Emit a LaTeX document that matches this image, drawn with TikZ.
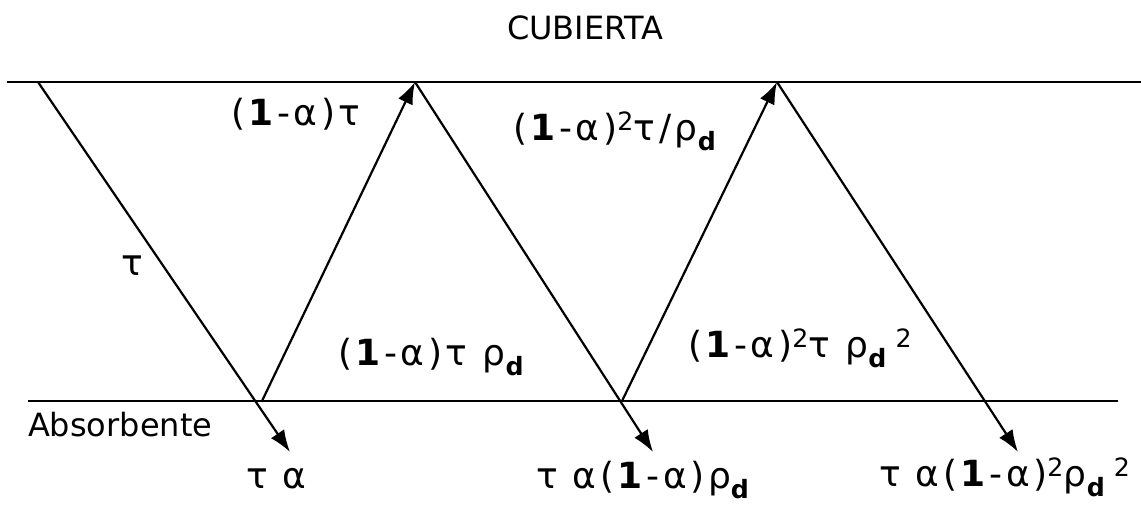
\documentclass[tikz,border=0pt]{standalone}
\usepackage{fontspec}
\setmainfont{DejaVu Sans}
\newfontfamily\formfont[LetterSpace=10]{DejaVu Sans}
\usetikzlibrary{arrows.meta}
\newcommand{\rhod}{ρ\textsubscript{\textbf{d}}}
\newcommand{\uno}{\textbf{1}}

\begin{document}
\begin{tikzpicture}[x=1pt, y=-1pt, line width=2.2pt,
    >={Latex[length=22pt,width=16pt]},
    lbl/.style={anchor=base west, inner sep=0pt, font=\fontsize{32}{36}\selectfont},
    frm/.style={anchor=base west, inner sep=0pt, font=\formfont\fontsize{36}{40}\selectfont}]
        \useasboundingbox (0,0) rectangle (1141,504);

        % Draw the cover and the absorber
        \coordinate (cubL) at (7,82);
        \coordinate (cubR) at (1141,82);
        \coordinate (absL) at (28,401);
        \coordinate (absR) at (1118,401);
        \draw (cubL) -- (cubR);
        \draw (absL) -- (absR);
        \node[lbl] (cub) at (506,39) {CUBIERTA};
        \node[lbl] (abs) at (27,436) {Absorbente};

        % Reflection points
        \coordinate (c1) at (38,82);
        \coordinate (a1) at (262,401);
        \coordinate (c2) at (415,82);
        \coordinate (a2) at (622,401);
        \coordinate (c3) at (777,82);
        \coordinate (e1) at (290,452);
        \coordinate (e2) at (653,452);
        \coordinate (e3) at (1018,452);

        % Draw the rays
        \draw[->] (c1) -- (e1);
        \draw[->] (a1) -- (c2);
        \draw[->] (c2) -- (e2);
        \draw[->] (a2) -- (c3);
        \draw[->] (c3) -- (e3);

        % Labels of the rays
        \node[frm] (t0) at (120,275) {τ};
        \node[frm] (t1) at (230,125) {(\uno-α)τ};
        \node[frm] (t2) at (337,365) {(\uno-α)τ \rhod};
        \node[frm] (t3) at (512,140) {(\uno-α)\textsuperscript{2}τ/\rhod};
        \node[frm] (t4) at (687,357) {(\uno-α)\textsuperscript{2}τ \rhod\,\textsuperscript{2}};

        % Absorbed fractions
        \node[frm] (b1) at (245,488) {τ α};
        \node[frm] (b2) at (535,488) {τ α(\uno-α)\rhod};
        \node[frm] (b3) at (878,486) {τ α(\uno-α)\textsuperscript{2}\rhod\,\textsuperscript{2}};
\end{tikzpicture}
\end{document}
